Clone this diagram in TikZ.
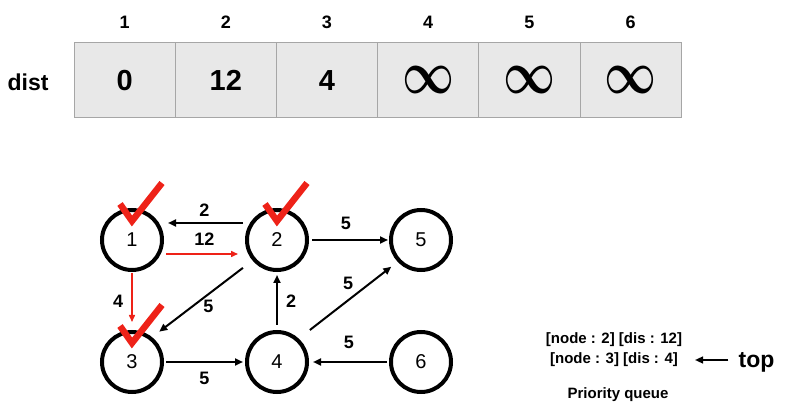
\documentclass[tikz,border=0pt]{standalone}
\usepackage{amsmath}
\usepackage{fontspec}
\setmainfont{Liberation Sans}
\usepackage{graphicx}
\usetikzlibrary{
	arrows.meta,
	positioning
}
\definecolor{chkred}{RGB}{238,34,24}
\newcommand{\infsym}{\resizebox{52pt}{27pt}{$\boldsymbol{\infty}$}}

\begin{document}
\begin{tikzpicture}[x=1pt,y=-1pt,
	vtx/.style={circle,draw,line width=4pt,minimum size=60pt,inner sep=0pt,font=\fontsize{20}{20}\selectfont},
	cell/.style={draw=gray!70,fill=gray!18,line width=1pt,minimum width=101.2pt,minimum height=75pt,inner sep=0pt,font=\bfseries\fontsize{29}{29}\selectfont},
	hdr/.style={inner sep=0pt,font=\bfseries\fontsize{18}{18}\selectfont},
	lbl/.style={inner sep=0pt,font=\bfseries\fontsize{18}{18}\selectfont},
	pq/.style={inner sep=0pt,font=\bfseries\fontsize{15}{15}\selectfont},
	arr/.style={line width=2pt,-{Triangle[length=8pt,width=7pt]}},
	redarr/.style={draw=chkred,line width=1.5pt,-{Triangle[length=7pt,width=6pt]}},
	chk/.style={draw=chkred,line width=6.5pt}]
	\useasboundingbox (0,0) rectangle (795,411);

	% dist table
	\node[font=\bfseries\fontsize{23}{23}\selectfont,inner sep=0pt] (dist) at (28,82) {dist};
	\foreach \i/\v in {1/0,2/12,3/4,4/\infsym,5/\infsym,6/\infsym} {
			\node[cell] (c\i) at (74+101.2*\i-50.6,80.5) {\v};
			\node[hdr] (h\i) at (c\i.north) [yshift=20pt] {\i};
		}

	% graph
	\node[vtx] (n1) at (132,240) {1};
	\node[vtx] (n2) at (277,240) {2};
	\node[vtx] (n5) at (421,240) {5};
	\node[vtx] (n3) at (132,362) {3};
	\node[vtx] (n4) at (277,362) {4};
	\node[vtx] (n6) at (421,362) {6};

	\draw[arr,shorten <=2pt,shorten >=4pt] ([yshift=17pt]n2.west) -- node[lbl,above=5pt] {2} ([yshift=17pt]n1.east);
	\draw[redarr,shorten <=2pt,shorten >=7pt] ([yshift=-14pt]n1.east) -- node[lbl,above=8pt] {12} ([yshift=-14pt]n2.west);
	\draw[arr,shorten <=3pt,shorten >=1pt] (n2) -- node[lbl,above=9pt,xshift=-3pt] {5} (n5);
	\draw[redarr,shorten <=1pt,shorten >=8pt] (n1) -- node[lbl,left=8pt] {4} (n3);
	\draw[arr,shorten <=12pt,shorten >=9pt] (n2.220) -- node[lbl,below right=0pt] {5} (n3.51);
	\draw[arr,shorten <=5pt,shorten >=3pt] (n4) -- node[lbl,right=8pt] {2} (n2);
	\draw[arr,shorten <=14pt,shorten >=8pt] (n4.47) -- node[lbl,above=10pt] {5} (n5.223);
	\draw[arr,shorten <=2pt,shorten >=2pt] (n3) -- node[lbl,below=9pt] {5} (n4);
	\draw[arr,shorten <=2pt,shorten >=4pt] (n6) -- node[lbl,above=12pt] {5} (n4);

	\foreach \v in {n1,n2,n3} {
			\draw[chk] ([shift={(-12,-36)}]\v.center) -- ++(12,17) -- ++(30,-38);
		}

	% priority queue
	\node[pq] (pq1) at (614,339.5) {[node : 2] [dis : 12]};
	\node[pq] (pq2) at (614,360) {[node : 3] [dis : 4]};
	\node[pq] (pqname) at (618,395) {Priority queue};
	\node[font=\bfseries\fontsize{23}{23}\selectfont,inner sep=0pt] (top) at (756.5,362) {top};
	\draw[arr,line width=1.5pt,shorten <=10pt,shorten >=17pt] (top.west |- pq2) -- (pq2.east);

\end{tikzpicture}
\end{document}
